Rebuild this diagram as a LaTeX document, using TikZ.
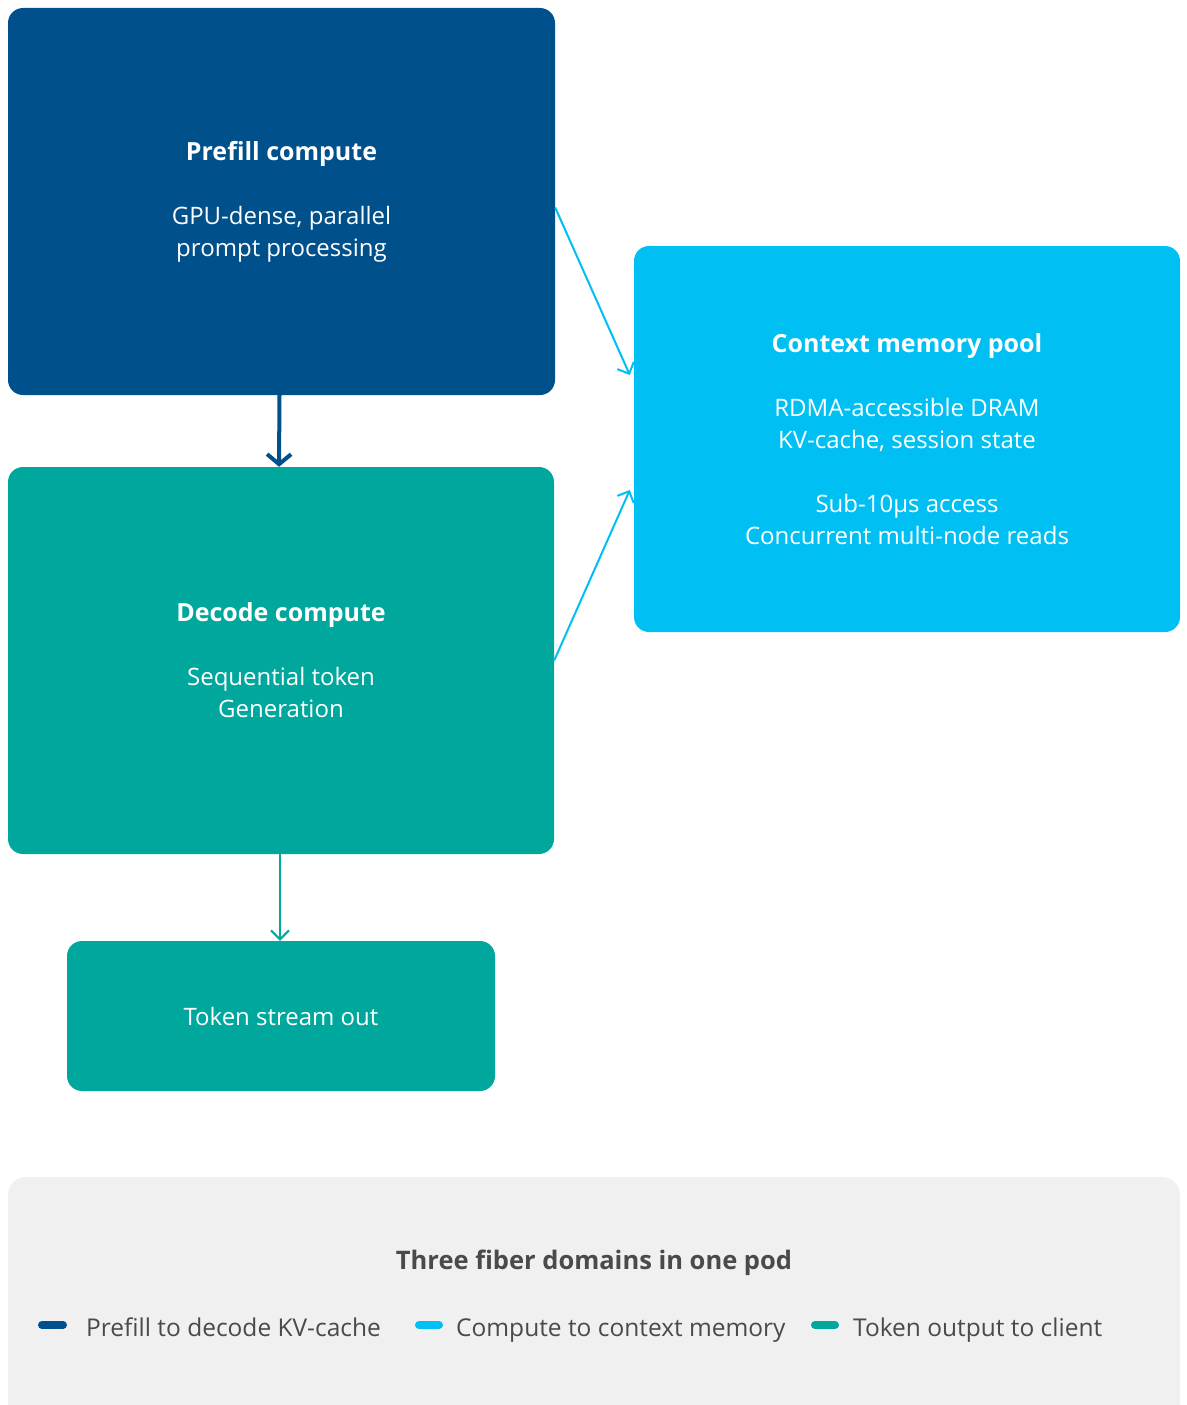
\documentclass[tikz,border=0pt]{standalone}
\usepackage{fontspec}
\setmainfont{Open Sans}
\usetikzlibrary{arrows.meta,calc}
\definecolor{dblue}{HTML}{00508C}
\definecolor{teal2}{HTML}{00A79D}
\definecolor{lblue}{HTML}{00C0F3}
\definecolor{lgray}{HTML}{F0F0F0}
\definecolor{tgray}{HTML}{4A4A4A}
\newcommand\myboxtitle[1]{{\bfseries\fontsize{25}{32}\selectfont #1}}
\tikzset{
  box/.style={rounded corners=15pt, inner sep=0pt, text=white, align=center, font=\fontsize{24}{32}\selectfont},
  conn/.style={line width=2pt, -{Straight Barb[length=9pt,width=18pt,line width=2pt]}},
  swatch/.style={line width=8pt, line cap=round},
  legtext/.style={anchor=base west, text=tgray, font=\fontsize{24.5}{30}\selectfont, inner sep=0pt}
}
\begin{document}
\begin{tikzpicture}[x=1pt,y=-1pt]
\useasboundingbox (0,0) rectangle (1186,1405);
\fill[white] (0,0) rectangle (1186,1405);
% boxes
\node[box, fill=dblue, minimum width=547pt, minimum height=387pt] (pre) at (281.5,201.5)
  {\myboxtitle{Prefill compute}\\[32pt]GPU-dense, parallel\\prompt processing};
\node[box, fill=teal2, minimum width=546pt, minimum height=387pt] (dec) at (281,660.5)
  {\myboxtitle{Decode compute}\\[32pt]Sequential token\\Generation};
\node[box, fill=teal2, minimum width=428pt, minimum height=150pt] (tok) at (281,1016)
  {Token stream out};
\node[box, fill=lblue, minimum width=546pt, minimum height=386pt] (mem) at (907,439)
  {\myboxtitle{Context memory pool}\\[32pt]RDMA-accessible DRAM\\KV-cache, session state\\[32pt]Sub-10\textmu s access\\Concurrent multi-node reads};
% connectors
\coordinate (m1) at ($(mem.west)+(-4,-64)$);
\coordinate (m2) at ($(mem.west)+(-4,51)$);
\coordinate (p1) at ($(pre.east)+(0,6)$);
\coordinate (d0) at ($(pre.south)+(-2,0)$);
\coordinate (d1) at ($(dec.north)+(-2,0)$);
\coordinate (t0) at ($(dec.south)+(-1,0)$);
\coordinate (t1) at ($(tok.north)+(-1,0)$);
\draw[conn, dblue, line width=4pt, -{Straight Barb[length=10pt,width=24pt,line width=4pt]}] (d0) -- (d1);
\draw[conn, lblue] (p1) -- (m1);
\draw[conn, lblue] (dec.east) -- (m2);
\draw[conn, teal2] (t0) -- (t1);
% legend
\begin{scope}
\clip (0,0) rectangle (1186,1405);
\fill[lgray, rounded corners=18pt] (8,1177) rectangle (1180,1440);
\end{scope}
\node[text=tgray, font=\bfseries\fontsize{25.5}{30}\selectfont] (ltitle) at (594,1263) {Three fiber domains in one pod};
\coordinate (s1a) at (42,1325); \coordinate (s1b) at (63,1325);
\coordinate (s2a) at (419,1325); \coordinate (s2b) at (439,1325);
\coordinate (s3a) at (815,1325); \coordinate (s3b) at (835,1325);
\draw[swatch, dblue] (s1a) -- (s1b);
\draw[swatch, lblue] (s2a) -- (s2b);
\draw[swatch, teal2] (s3a) -- (s3b);
\node[legtext] (l1) at (86,1336) {Prefill to decode KV-cache};
\node[legtext] (l2) at (456,1336) {Compute to context memory};
\node[legtext] (l3) at (853,1336) {Token output to client};
\end{tikzpicture}
\end{document}
